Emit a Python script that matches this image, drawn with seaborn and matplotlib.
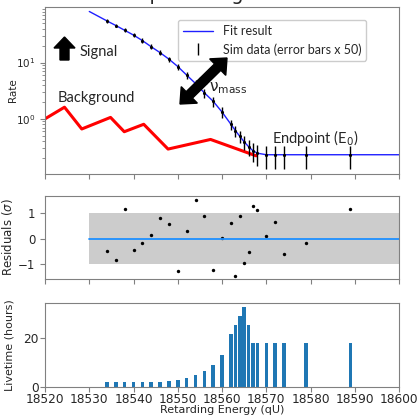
import matplotlib
matplotlib.use("Agg")
import matplotlib.pyplot as plt
import seaborn as sns
from matplotlib.patches import FancyArrow
from matplotlib.lines import Line2D

# retarding energies of the scan steps (eV)
energy = [18534, 18536, 18538, 18540, 18542, 18544, 18546, 18548, 18550, 18552,
          18554, 18556, 18558, 18560, 18562, 18563, 18564, 18565, 18566, 18567,
          18568, 18570, 18572, 18574, 18579, 18589]
rate = [55.0, 45.6, 37.5, 30.8, 24.6, 19.1, 15.0, 11.5, 8.5, 6.0,
        4.25, 2.9, 2.05, 1.32, 0.80, 0.62, 0.49, 0.39, 0.32, 0.27,
        0.245, 0.23, 0.23, 0.23, 0.23, 0.23]
rate_err = [4.0, 3.4, 3.0, 2.6, 2.2, 1.9, 1.6, 1.3, 1.1, 0.9,
            0.7, 0.55, 0.4, 0.3, 0.16, 0.14, 0.12, 0.11, 0.1, 0.1,
            0.1, 0.1, 0.1, 0.1, 0.1, 0.1]
residuals = [-0.49, -0.82, 1.16, -0.45, -0.17, 0.12, 0.81, 0.55, -1.26, 0.29,
             1.51, 0.86, -1.23, 0.04, 0.61, -1.45, 0.88, -0.94, -0.51, 1.26,
             1.10, 0.10, 0.65, -0.59, -0.18, 1.14]
livetime = [1.9, 1.9, 1.9, 1.9, 1.9, 1.9, 1.9, 2.2, 2.7, 3.7,
            4.8, 6.5, 9.1, 12.9, 21.8, 25.3, 29.0, 32.7, 25.4, 18.1,
            18.1, 18.1, 18.1, 18.1, 18.1, 18.1]

# fit curve (extends over the full fit window)
fit_energy = [18530] + energy + [18600]
fit_rate = [81.0] + rate + [0.23]

# background
bg_energy = [18520, 18524.4, 18528.3, 18534.8, 18537.9, 18542.3, 18547.8, 18557.4, 18567.7]
bg_rate = [1.0, 1.61, 0.66, 1.06, 0.59, 0.80, 0.29, 0.43, 0.22]

sns.set_style("ticks")
plt.rcParams["font.family"] = ["DejaVu Sans"]
note_font = ["Lato", "DejaVu Sans"]
spine_col = "#808080"

W, H = 417, 416
fig = plt.figure(figsize=(W / 100, H / 100), dpi=100)
ax1 = fig.add_axes([0.108, 0.582, 0.849, 0.401])
ax2 = fig.add_axes([0.108, 0.329, 0.849, 0.200])
ax3 = fig.add_axes([0.108, 0.070, 0.849, 0.202])


def px(x, y):
    # pixel position measured from the top-left corner -> figure fraction
    return x / W, 1 - y / H


# --- spectrum ---
sns.lineplot(x=bg_energy, y=bg_rate, ax=ax1, color="red", lw=2.2, sort=False)
sns.lineplot(x=fit_energy, y=fit_rate, ax=ax1, color="#2020ff", lw=1.0, sort=False)
ax1.errorbar(energy, rate, yerr=rate_err, fmt=".", color="black", ms=2.5,
             elinewidth=1.0, capsize=0)
ax1.set_yscale("log")
ax1.set_ylim(0.105, 97)
ax1.set_xlim(18520, 18600)
ax1.set_ylabel("Rate", fontsize=7.5)
ax1.yaxis.set_label_coords(-0.075, 0.5)
ax1.tick_params(labelsize=7.5, labelbottom=False)
handles = [Line2D([], [], color="#2020ff", lw=1.0),
           Line2D([], [], color="black", marker="|", ls="none", ms=8, mew=1.0)]
ax1.legend(handles, ["Fit result", "Sim data (error bars x 50)"],
           loc="upper right", bbox_to_anchor=(0.925, 0.96),
           prop={"family": note_font, "size": 9}, framealpha=1,
           edgecolor="#cccccc", handlelength=2.4)

fig.text(*px(80, 52), "Signal", fontsize=10.5, family=note_font, va="center")
fig.text(*px(58, 98), "Background", fontsize=10.5, family=note_font, va="center")
fig.text(*px(272, 138), "Endpoint (E$_0$)", fontsize=10.5, family=note_font,
         va="center")
fig.text(*px(209, 88), "ν$_{\\mathregular{mass}}$", fontsize=11, va="center")

# --- residuals ---
ax2.fill_between([18530, 18600], -1, 1, color="#cccccc", lw=0)
ax2.plot([18530, 18600], [0, 0], color="#1e90ff", lw=1.3)
sns.scatterplot(x=energy, y=residuals, ax=ax2, color="black", s=6, lw=0)
ax2.set_xlim(18520, 18600)
ax2.set_ylim(-1.58, 1.66)
ax2.set_yticks([-1, 0, 1])
ax2.set_ylabel(r"Residuals ($\sigma$)", fontsize=8.5)
ax2.yaxis.set_label_coords(-0.085, 0.5)
ax2.tick_params(labelsize=8.5, labelbottom=False)

# --- livetime ---
sns.barplot(x=energy, y=livetime, ax=ax3, native_scale=True, width=0.8,
            color="#1f77b4", saturation=1, linewidth=0)
ax3.set_xlim(18520, 18600)
ax3.set_ylabel("Livetime (hours)", fontsize=8)
ax3.yaxis.set_label_coords(-0.085, 0.5)
ax3.set_xlabel("Retarding Energy (qU)", fontsize=8)
ax3.xaxis.set_label_coords(0.5, -0.215)
ax3.tick_params(labelsize=8.7, pad=1)

for ax in (ax1, ax2, ax3):
    for s in ax.spines.values():
        s.set_color(spine_col)
    ax.tick_params(color=spine_col, which="both")
    ax.set_xticks(range(18520, 18601, 10))

# arrows (pixel coordinates, y measured from the bottom)
sig = FancyArrow(64.5, H - 60, 0, 23, width=9, head_width=21, head_length=11,
                 length_includes_head=True, color="black", transform=None)
fig.add_artist(sig)
mx, my = 203.5, H - 81
for dx, dy in ((23.5, 23), (-23.5, -23)):
    fig.add_artist(FancyArrow(mx, my, dx, dy, width=9, head_width=23,
                              head_length=13, length_includes_head=True,
                              color="black", transform=None))

fig.text(*px(95, 0), "Example fitting", fontsize=14, va="baseline")

fig.savefig("out.png", dpi=100)
